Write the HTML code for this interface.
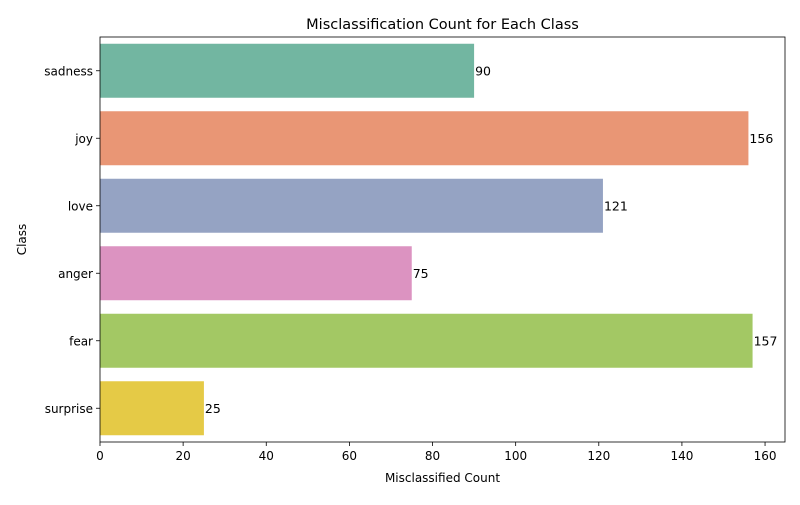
<!DOCTYPE html>
<html><head><meta charset="utf-8"><style>
body{margin:0;background:#fff;font-family:"Liberation Sans","DejaVu Sans",sans-serif;}
svg text{font-family:"DejaVu Sans","Liberation Sans",sans-serif;}
</style></head><body>
<svg id="c" width="800" height="500" xmlns="http://www.w3.org/2000/svg"></svg>
<script>
const categories=["sadness","joy","love","anger","fear","surprise"];
const counts=[90,156,121,75,157,25];
const colors=["#72b6a1","#e99675","#95a3c3","#dc93c1","#a3c864","#e5ca46"];
const xTicks=[0,20,40,60,80,100,120,140,160];
const L=100,R=785,T=37,B=442,XMAX=164.8;
const svg=document.getElementById('c');
const NS="http://www.w3.org/2000/svg";
function x(v){return L+(v/XMAX)*(R-L);}
const band=(B-T)/categories.length;
function y(i){return T+band*i;}
function mk(tag,attrs,parent){const e=document.createElementNS(NS,tag);for(const k in attrs)e.setAttribute(k,attrs[k]);(parent||svg).appendChild(e);return e;}
categories.forEach((c,i)=>{
  const r=mk('rect',{x:x(0),y:y(i)+band*0.1,width:x(counts[i])-x(0),height:band*0.8,fill:colors[i]});
  
  
  const t=mk('text',{x:x(counts[i])+1,y:y(i)+band/2+4.5,'font-size':12.5,fill:'#000'});
  t.textContent=counts[i];
  
  
  const tk=mk('line',{x1:L-4,x2:L,y1:y(i)+band/2,y2:y(i)+band/2,stroke:'#000','stroke-width':0.8});
  const lb=mk('text',{x:L-7,y:y(i)+band/2+4.5,'font-size':12,'text-anchor':'end'});
  lb.textContent=c;
  
  
});
xTicks.forEach(v=>{
  mk('line',{x1:x(v),x2:x(v),y1:B,y2:B+4,stroke:'#000','stroke-width':0.8});
  const t=mk('text',{x:x(v),y:B+18,'font-size':12,'text-anchor':'middle'});
  t.textContent=v;
  
  
});
const fr=mk('rect',{x:L,y:T,width:R-L,height:B-T,fill:'none',stroke:'#000','stroke-width':0.8});


const ti=mk('text',{x:(L+R)/2,y:T-8,'font-size':14.5,'text-anchor':'middle'});
ti.textContent="Misclassification Count for Each Class";


const xt=mk('text',{x:(L+R)/2,y:482,'font-size':12,'text-anchor':'middle'});
xt.textContent="Misclassified Count";


const yt=mk('text',{x:0,y:0,'font-size':12,'text-anchor':'middle',transform:'translate(26,'+((T+B)/2)+') rotate(-90)'});
yt.textContent="Class";


</script>
</body></html>
